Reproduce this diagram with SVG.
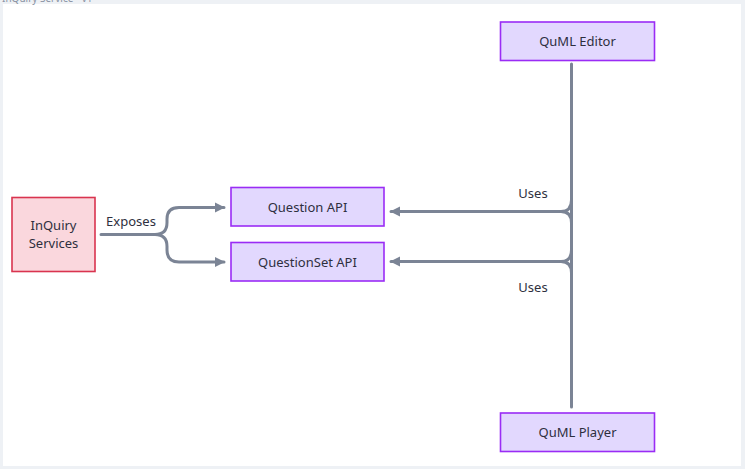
<svg xmlns="http://www.w3.org/2000/svg" width="745" height="469" viewBox="0 0 745 469">
<defs>
<style>
.bg{fill:#eef1f5}
.page{fill:#ffffff}
.lbl{font-family:"Noto Sans","Liberation Sans",sans-serif;font-size:13px;fill:#2e2f3e;text-anchor:middle}
.elbl{font-family:"Noto Sans","Liberation Sans",sans-serif;font-size:13px;fill:#2e2f3e;text-anchor:middle}
.api{fill:#e2d8fe;stroke:#9a2cf5;stroke-width:1.6}
.svc{fill:#fad7dd;stroke:#d9344f;stroke-width:1.6}
.conn{fill:none;stroke:#7b8495;stroke-width:3;stroke-linecap:round;stroke-linejoin:round}
</style>
<marker id="arr" viewBox="0 0 10 10" refX="9" refY="5" markerWidth="3.4" markerHeight="3.4" orient="auto-start-reverse" markerUnits="strokeWidth">
<path d="M0,0 L10,5 L0,10 Z" fill="#7b8495"/>
</marker>
</defs>
<rect class="bg" x="0" y="0" width="745" height="469"/>
<rect class="page" x="3" y="4" width="738" height="462"/>
<text x="2" y="2" font-family="Noto Sans,Liberation Sans,sans-serif" font-size="10" fill="#8a93a3">InQuiry Service - v1</text>
<g id="connectors">
<path class="conn" d="M101,234.5 L155,234.5 Q167,234.5 167,222.5 L167,219 Q167,207.5 179,207.5 L224,207.5" marker-end="url(#arr)"/>
<path class="conn" d="M155,234.5 Q167,234.5 167,246.5 L167,250 Q167,262 179,262 L224,262" marker-end="url(#arr)"/>
<path class="conn" d="M571.5,64 L571.5,407"/>
<path class="conn" d="M571.5,200 Q571.5,211.5 561,211.5 L391,211.5" marker-end="url(#arr)"/>
<path class="conn" d="M571.5,223 Q571.5,211.5 561,211.5"/>
<path class="conn" d="M571.5,250 Q571.5,261.5 561,261.5 L391,261.5" marker-end="url(#arr)"/>
<path class="conn" d="M571.5,273 Q571.5,261.5 561,261.5"/>
<text class="elbl" x="131" y="226">Exposes</text>
<text class="elbl" x="533" y="198">Uses</text>
<text class="elbl" x="533" y="292">Uses</text>
</g>
<g id="inquiry-services">
<rect class="svc" x="12" y="197.5" width="83" height="74"/>
<text class="lbl" x="53.5" y="230">InQuiry</text>
<text class="lbl" x="53.5" y="248">Services</text>
</g>
<g id="question-api">
<rect class="api" x="231" y="187.5" width="153" height="38.5"/>
<text class="lbl" x="307.5" y="211.5">Question API</text>
</g>
<g id="questionset-api">
<rect class="api" x="231" y="242.5" width="153" height="38.5"/>
<text class="lbl" x="307.5" y="266.5">QuestionSet API</text>
</g>
<g id="quml-editor">
<rect class="api" x="500.5" y="22" width="154" height="38.5"/>
<text class="lbl" x="577.5" y="46">QuML Editor</text>
</g>
<g id="quml-player">
<rect class="api" x="500.5" y="413" width="154" height="38.5"/>
<text class="lbl" x="577.5" y="437">QuML Player</text>
</g>
</svg>
